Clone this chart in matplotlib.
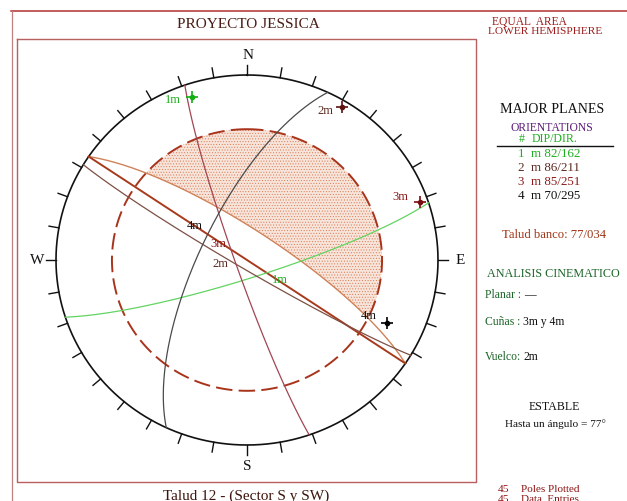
import matplotlib
matplotlib.use("Agg")
import matplotlib.pyplot as plt
import numpy as np
from matplotlib.patches import Polygon

plt.rcParams["font.family"] = ["Liberation Serif", "DejaVu Serif"]
plt.rcParams["hatch.linewidth"] = 0.4

# Stereonet data (dip, dip direction)
plane_names = ["1", "2", "3", "4"]
plane_dips = [82, 86, 85, 70]
plane_dirs = [162, 211, 251, 295]
plane_colors = ["#62d462", "#7d5044", "#a24654", "#4a4a4a"]
pole_colors = ["#12b012", "#5c1410", "#7a0c10", "#000000"]
label_colors = ["#1fae1f", "#5c2a20", "#8c1a1a", "#111111"]
slope_dip = 77
slope_dir = 34
thick_dip = 90
friction = 30
tick_angles = np.arange(0, 360, 10)

# Net position in pixels (picture is slightly squashed vertically)
cx, cy = 247, 260
rx, ry = 191, 185


def project(trend, plunge):
    r = np.sqrt(2) * np.sin(np.radians(90 - plunge) / 2)
    t = np.radians(trend)
    return cx + rx * r * np.sin(t), cy - ry * r * np.cos(t)


def great_circle(dip, dip_dir, n=181):
    # walk along the plane from strike to strike
    a = np.radians(np.linspace(0, 180, n))
    d = np.radians(dip)
    s = np.radians(dip_dir - 90)
    h = np.cos(a)
    v = np.sin(a)
    e = h * np.sin(s) + v * np.cos(d) * np.sin(s + np.pi / 2)
    nn = h * np.cos(s) + v * np.cos(d) * np.cos(s + np.pi / 2)
    z = v * np.sin(d)
    return project(np.degrees(np.arctan2(e, nn)), np.degrees(np.arcsin(np.clip(z, -1, 1))))


fig = plt.figure(figsize=(6.27, 5.01), dpi=100)
ax = fig.add_axes([0, 0, 1, 1])
ax.set_xlim(0, 627)
ax.set_ylim(501, 0)
ax.axis("off")

# frames
ax.plot([11, 627], [11, 11], color="#b03030", lw=1.1)
ax.plot([11.5, 11.5], [11, 501], color="#c08080", lw=0.9)
ax.plot([17, 476, 476, 17, 17], [38.5, 38.5, 481.5, 481.5, 38.5], color="#b86060", lw=1.0)

# daylight envelope: part of the friction circle on the dip side of the slope plane
sx, sy = great_circle(slope_dip, slope_dir, 721)
fr = np.sqrt(2) * np.sin(np.radians(90 - friction) / 2)
inside = ((sx - cx) / rx) ** 2 + ((sy - cy) / ry) ** 2 <= fr ** 2
arc_x, arc_y = sx[inside], sy[inside]
a0 = np.degrees(np.arctan2((arc_x[-1] - cx) / rx, (cy - arc_y[-1]) / ry))
a1 = np.degrees(np.arctan2((arc_x[0] - cx) / rx, (cy - arc_y[0]) / ry))
if a1 < a0:
    a1 += 360
if a1 - a0 > 180:
    a0, a1 = a1, a0 + 360
    arc_x, arc_y = arc_x[::-1], arc_y[::-1]
back = np.radians(np.linspace(a0, a1, 200))
poly_x = np.r_[arc_x, cx + rx * fr * np.sin(back)]
poly_y = np.r_[arc_y, cy - ry * fr * np.cos(back)]
ax.add_patch(Polygon(np.c_[poly_x, poly_y], closed=True, facecolor="#f7e4da",
                     edgecolor="#dc7a52", hatch="......", lw=0, zorder=1))

# friction circle
t = np.radians(np.arange(0, 361))
ax.plot(cx + rx * fr * np.sin(t), cy - ry * fr * np.cos(t), color="#a8341c", lw=1.4,
        dashes=(8.5, 3.2), zorder=3)

# primitive and ticks
ax.plot(cx + rx * np.sin(t), cy - ry * np.cos(t), color="#111111", lw=1.2, zorder=4)
for ang in tick_angles:
    b = np.radians(ang)
    ax.plot([cx + rx * np.sin(b), cx + (rx + 10) * np.sin(b)],
            [cy - ry * np.cos(b), cy - (ry + 10) * np.cos(b)], color="#111111", lw=1.0, zorder=4)

# slope plane and planes
ax.plot(sx, sy, color="#cf8258", lw=1.0, zorder=5)
x, y = great_circle(thick_dip, slope_dir)
ax.plot(x, y, color="#a83a1c", lw=1.4, zorder=5)
for dip, ddir, col in zip(plane_dips, plane_dirs, plane_colors):
    x, y = great_circle(dip, ddir)
    ax.plot(x, y, color=col, lw=0.9, zorder=5)

# poles
for dip, ddir, col in zip(plane_dips, plane_dirs, pole_colors):
    px, py = project((ddir + 180) % 360, 90 - dip)
    ax.plot(px, py, marker="+", ms=8.5, mew=1.2, color=col, zorder=6)
    ax.plot(px, py, marker="o", ms=3, color=col, zorder=6)

serif = dict(ha="center", va="center")
left = dict(ha="left", va="center")
# compass
ax.text(248, 55, "N", fontsize=11, color="#111111", **serif)
ax.text(247, 466, "S", fontsize=11, color="#111111", **serif)
ax.text(37, 260, "W", fontsize=11, color="#111111", **serif)
ax.text(460, 260, "E", fontsize=11, color="#111111", **serif)

# plane labels
lab = [("1m", 173, 100, 0), ("2m", 325, 111, 1), ("3m", 400, 197, 2), ("4m", 369, 316, 3),
       ("1m", 280, 280, 0), ("2m", 220, 264, 1), ("3m", 218, 244, 2), ("4m", 195, 226, 3)]
for s, lx, ly, i in lab:
    ax.text(lx, ly, s, fontsize=9, color=label_colors[i], zorder=7, **serif)

# header
ax.text(248, 24.5, "PROYECTO JESSICA", fontsize=11, color="#4a1c14", **serif)
ax.text(529.5, 22, "EQUAL  AREA", fontsize=8.3, color="#9c1c1c", **serif)
ax.text(545, 31.5, "LOWER HEMISPHERE", fontsize=8.2, color="#9c1c1c", **serif)
ax.text(246, 496, "Talud 12 - (Sector S y SW)", fontsize=11, color="#3c140c", **serif)

# right panel
ax.text(552, 109, "MAJOR PLANES", fontsize=10.1, color="#111111", **serif)
ax.text(552, 128, "ORIENTATIONS", fontsize=8.4, color="#5c1c78", **serif)
ax.text(522, 139, "#", fontsize=8.6, color="#1fae1f", **serif)
ax.text(555, 139, "DIP/DIR.", fontsize=8.6, color="#1fae1f", **serif)
ax.plot([497, 613], [145.5, 145.5], color="#111111", lw=1.0)
for i, name in enumerate(plane_names):
    row = 154 + i * 14
    ax.text(521, row, name, fontsize=9.4, color=label_colors[i], **serif)
    ax.text(531, row, f"m {plane_dips[i]}/{plane_dirs[i]}", fontsize=9.4, color=label_colors[i], **left)
ax.text(554, 235, "Talud banco: 77/034", fontsize=9.1, color="#a03414", **serif)

ax.text(553, 274, "ANALISIS CINEMATICO", fontsize=8.7, color="#1c6428", **serif)
ax.text(485, 295, "Planar :", fontsize=8.4, color="#1c6428", **left)
ax.text(524, 295, "\u2014", fontsize=8.4, color="#111111", **left)
ax.text(485, 322, "Cuñas :", fontsize=8.4, color="#1c6428", **left)
ax.text(523, 322, "3m y 4m", fontsize=8.4, color="#111111", **left)
ax.text(485, 357, "Vuelco:", fontsize=8.4, color="#1c6428", **left)
ax.text(523, 357, "2m", fontsize=8.4, color="#111111", **left)
ax.text(554, 407, "ESTABLE", fontsize=8.6, color="#111111", **serif)
ax.text(555.5, 424, "Hasta un ángulo = 77°", fontsize=8.1, color="#111111", **serif)
ax.text(498, 489, "45", fontsize=8.2, color="#8c1414", **left)
ax.text(521, 489, "Poles Plotted", fontsize=8.0, color="#8c1414", **left)
ax.text(498, 499.5, "45", fontsize=8.2, color="#8c1414", **left)
ax.text(521, 499.5, "Data  Entries", fontsize=8.0, color="#8c1414", **left)

fig.savefig("out.png", dpi=100)
